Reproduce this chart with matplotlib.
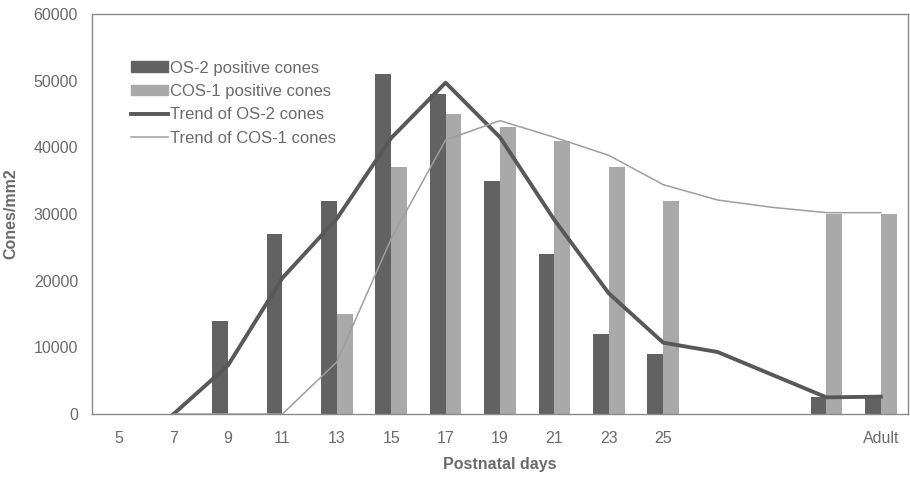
import numpy as np
import matplotlib.pyplot as plt
from matplotlib.patches import Patch
from matplotlib.lines import Line2D

plt.rcParams['font.family'] = ['Liberation Sans', 'DejaVu Sans']

# 15 category slots: days 5..25, three unlabelled slots, Adult
labels = ['5', '7', '9', '11', '13', '15', '17', '19', '21', '23', '25', '', '', '', 'Adult']
os2_bars = [0, 0, 14000, 27000, 32000, 51000, 48000, 35000, 24000, 12000, 9000, 0, 0, 2500, 2800]
cos1_bars = [0, 0, 0, 0, 15000, 37000, 45000, 43000, 41000, 37000, 32000, 0, 0, 30000, 30000]
os2_trend = [np.nan, 0, 7300, 20400, 29300, 41400, 49700, 41500, 29100, 18100, 10700, 9300, 5900, 2500, 2600]
cos1_trend = [np.nan, 0, 0, 0, 7800, 26300, 41100, 44000, 41500, 38800, 34400, 32100, 31000, 30200, 30200]

dark = '#626262'
light = '#a9a9a9'
txt = '#6a6a6a'

fig = plt.figure(figsize=(9.1, 4.79), dpi=100)
ax = fig.add_axes([0.1011, 0.1357, 0.8967, 0.8351])

x = np.arange(len(labels))
w = 0.29
ax.bar(x - w / 2, os2_bars, w, color=dark, zorder=2)
ax.bar(x + w / 2, cos1_bars, w, color=light, zorder=2)
ax.plot(x, os2_trend, color='#585858', lw=2.8, zorder=3)
ax.plot(x, cos1_trend, color='#9e9e9e', lw=1.1, zorder=3)

ax.set_xlim(-0.5, len(labels) - 0.5)
ax.set_ylim(0, 60000)
ax.set_yticks(range(0, 60001, 10000))
ax.set_xticks(x)
ax.set_xticklabels(labels)
ax.tick_params(axis='both', length=0, labelsize=11.5, labelcolor=txt)
ax.tick_params(axis='y', pad=10)
ax.tick_params(axis='x', pad=12)
for s in ax.spines.values():
    s.set_color('#8a8a8a')
    s.set_linewidth(1.0)

ax.set_xlabel('Postnatal days', fontsize=11.5, fontweight='bold', color=txt, labelpad=8)
ax.set_ylabel('Cones/mm2', fontsize=11.5, fontweight='bold', color=txt, labelpad=11)

handles = [
    Patch(color=dark),
    Patch(color=light),
    Line2D([], [], color='#585858', lw=2.8),
    Line2D([], [], color='#9e9e9e', lw=1.1),
]
names = ['OS-2 positive cones', 'COS-1 positive cones', 'Trend of OS-2 cones', 'Trend of COS-1 cones']
leg = ax.legend(handles, names, loc='upper left', bbox_to_anchor=(0.04, 0.9), frameon=False,
                fontsize=12, handlelength=2.2, handleheight=0.6, handletextpad=0.1,
                labelspacing=0.5, borderaxespad=0)
for t in leg.get_texts():
    t.set_color(txt)

fig.savefig('out.png', dpi=100)
